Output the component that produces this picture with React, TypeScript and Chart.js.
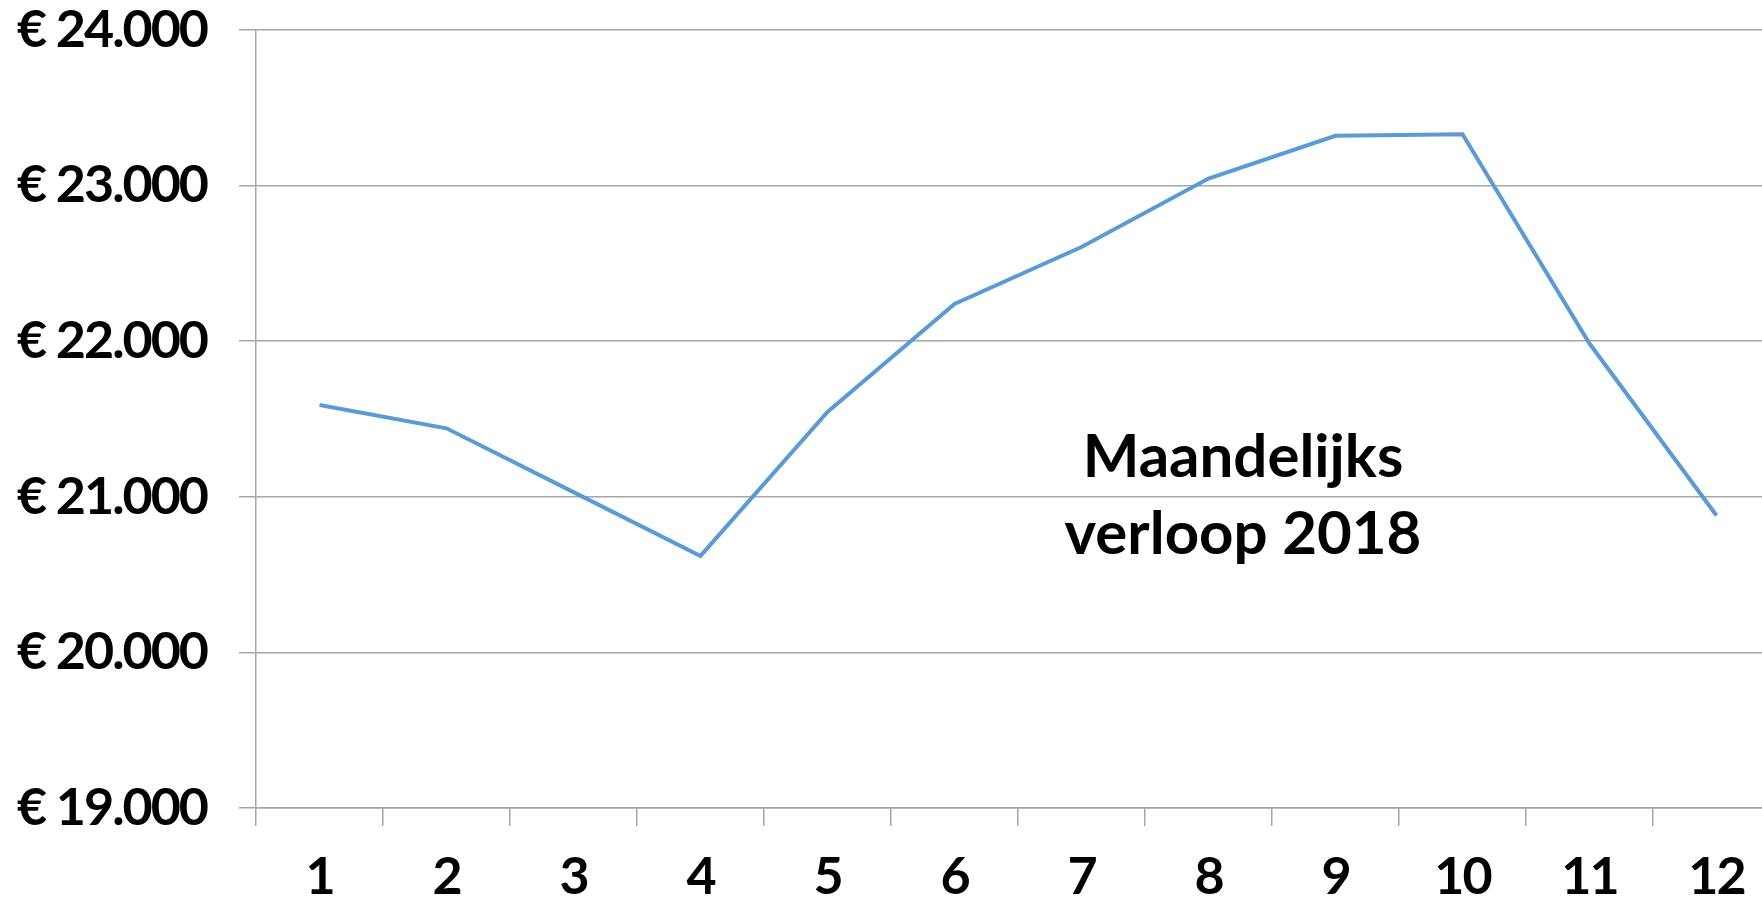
import React, { useEffect, useRef } from "react";
import { Chart, registerables } from "chart.js";

Chart.register(...registerables);

const months = ["1", "2", "3", "4", "5", "6", "7", "8", "9", "10", "11", "12"];
const values = [21590, 21440, 21030, 20620, 21545, 22240, 22605, 23045, 23320, 23330, 21985, 20880];
const yMin = 19000;
const yMax = 24000;
const yStep = 1000;
const annotationLines = ["Maandelijks", "verloop 2018"];

const FONT = "Lato, 'Open Sans', sans-serif";

const fmt = (v: number) => "€ " + v.toLocaleString("nl-NL").replace(/,/g, ".");

const spacingPlugin = {
  id: "tightSpacing",
  beforeDraw(chart: any) {
    chart.ctx.letterSpacing = "-2px";
  },
};

const annotationPlugin = {
  id: "annotationText",
  afterDraw(chart: any) {
    const ctx = chart.ctx;
    ctx.save();
    ctx.letterSpacing = "0px";
    ctx.fillStyle = "#000000";
    ctx.font = `bold 60px ${FONT}`;
    ctx.textAlign = "center";
    ctx.textBaseline = "middle";
    const cx = 1243;
    ctx.fillText(annotationLines[0], cx, 458);
    ctx.fillText(annotationLines[1], cx, 535);
    ctx.restore();
  },
};

export default function App() {
  const ref = useRef<HTMLCanvasElement | null>(null);
  useEffect(() => {
    if (!ref.current) return;
    const chart = new Chart(ref.current, {
      type: "line",
      data: {
        labels: months,
        datasets: [
          {
            data: values,
            borderColor: "#5B9BD5",
            borderWidth: 4,
            pointRadius: 0,
            tension: 0,
            fill: false,
          },
        ],
      },
      options: {
        animation: false,
        responsive: false,
        devicePixelRatio: 1,
        layout: { padding: { top: 30, right: 0, left: 0, bottom: 0 } },
        plugins: { legend: { display: false }, tooltip: { enabled: false }, title: { display: false } },
        scales: {
          x: {
            type: "category",
            offset: true,
            grid: {
              offset: true,
              drawOnChartArea: false,
              drawTicks: true,
              tickLength: 18,
              color: "#A6A6A6",
              lineWidth: 1.5,
            },
            border: { display: true, color: "#A6A6A6", width: 1.5 },
            ticks: {
              color: "#000000",
              font: { family: FONT, size: 52, weight: "bold" },
              padding: 20,
              maxRotation: 0,
              autoSkip: false,
            },
            afterFit: (s: any) => {
              s.height = 93;
              s.paddingLeft = 0;
              s.paddingRight = 0;
            },
          },
          y: {
            min: yMin,
            max: yMax,
            grid: { color: "#A6A6A6", lineWidth: 1.5, tickLength: 17, drawTicks: true },
            border: { display: true, color: "#A6A6A6", width: 1.5 },
            ticks: {
              stepSize: yStep,
              color: "#000000",
              font: { family: FONT, size: 52, weight: "bold" },
              padding: 32,
              callback: (v: any) => fmt(Number(v)),
            },
            afterFit: (s: any) => {
              s.width = 256;
              s.paddingTop = 0;
              s.paddingBottom = 0;
            },
          },
        },
      },
      plugins: [spacingPlugin, annotationPlugin],
    });
    return () => chart.destroy();
  }, []);
  return (
    <div style={{ position: "fixed", left: 0, top: 0, width: 1762, height: 901, overflow: "hidden", background: "#fff" }}>
      <canvas ref={ref} width={1780} height={901} style={{ display: "block" }} />
    </div>
  );
}
